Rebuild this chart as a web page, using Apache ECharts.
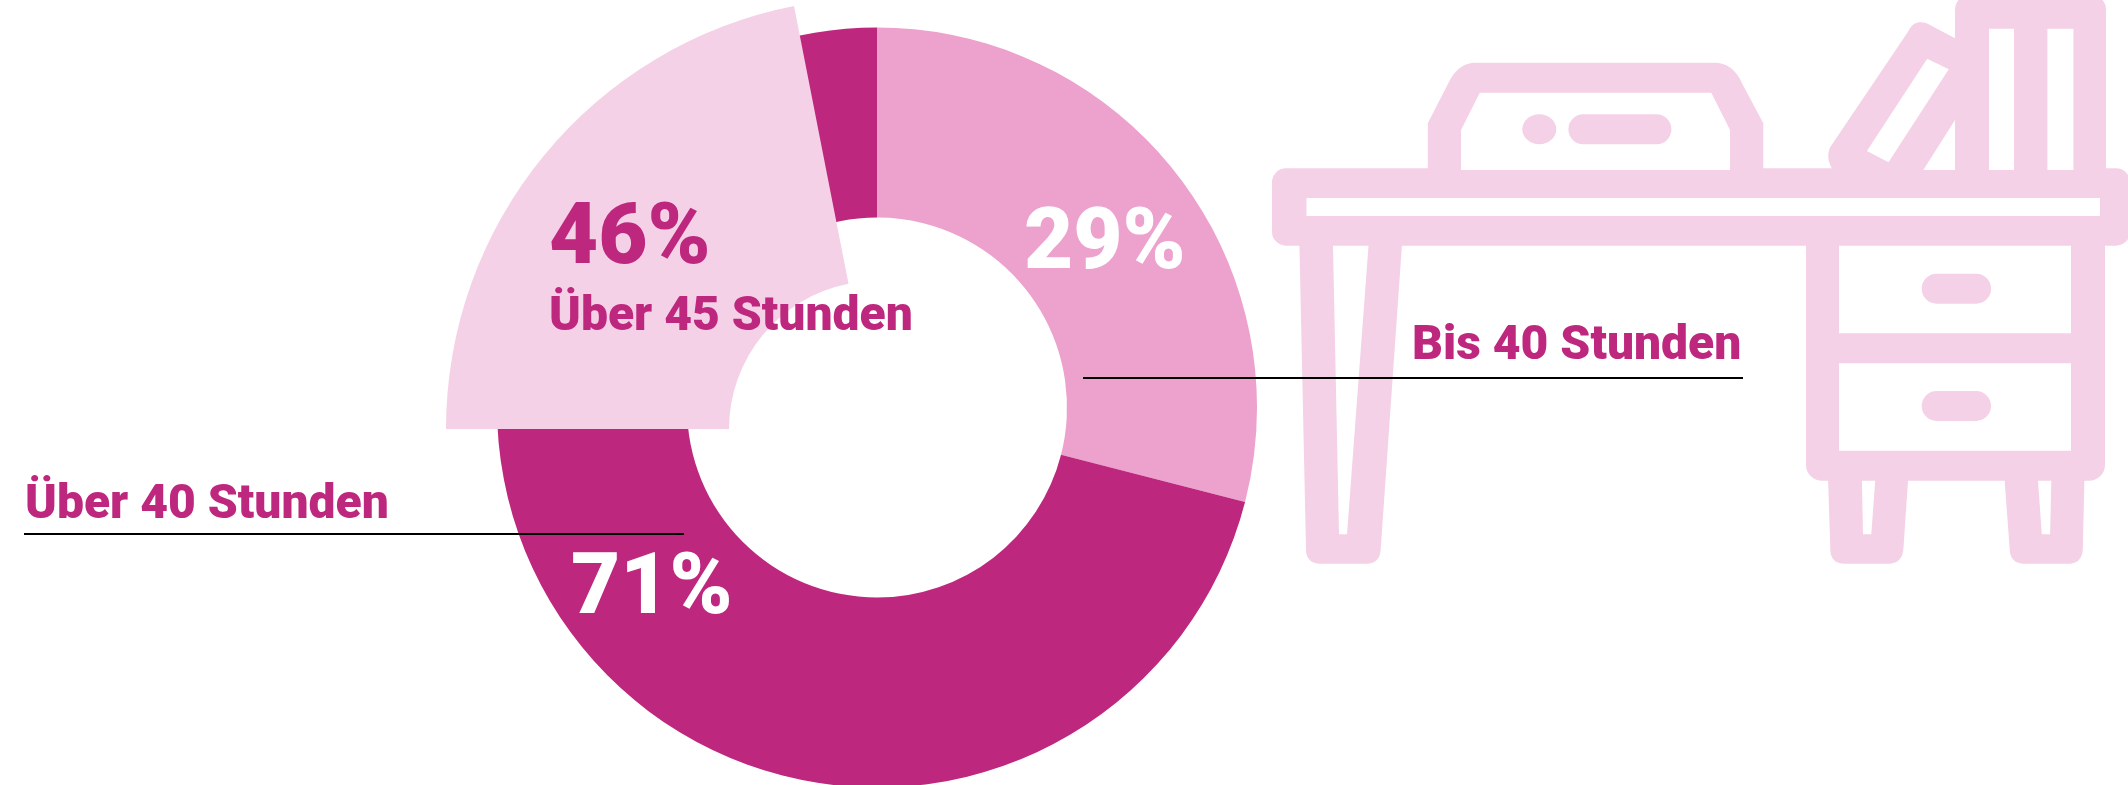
<!DOCTYPE html>
<html><head><meta charset="utf-8">
<style>html,body{margin:0;padding:0;background:#fff}#c{width:2128px;height:785px}</style>
<script src="https://cdn.jsdelivr.net/npm/echarts@6/dist/echarts.min.js"></script>
</head><body><div id="c"></div>
<script>
// ---- data
const ringNames = ['Bis 40 Stunden', 'Über 40 Stunden'];
const ringValues = [29, 71];
const overlayName = 'Über 45 Stunden';
const overlayShare = 46;
// the raised wedge covers this many degrees of the circle in the picture
const overlaySweepDeg = [78.9, 281.1];
const DARK = '#BE277E', MID = '#ECA2CD', LIGHT = '#F4D1E6';

const chart = echarts.init(document.getElementById('c'), null, {renderer:'canvas', width:2128, height:785});

const ICON = LIGHT;
function rr(x1,y1,x2,y2,r){ return {type:'rect',z:1,shape:{x:x1,y:y1,width:x2-x1,height:y2-y1,r:r},style:{fill:ICON}}; }
function hole(x1,y1,x2,y2){ return {type:'rect',z:2,shape:{x:x1,y:y1,width:x2-x1,height:y2-y1},style:{fill:'#fff'}}; }
function poly(pts,z,fill){ return {type:'polygon',z:z,shape:{points:pts},style:{fill:fill}}; }
// outline helper: M/L/Q path text turned into polygon points
function path(d,z,fill){
  const t = d.match(/[MLQZ]|-?[\d.]+/g); const pts=[]; let i=0, cur=null;
  const num=()=>parseFloat(t[i++]);
  while(i<t.length){ const c=t[i++];
    if(c==='M'||c==='L'){ cur=[num(),num()]; pts.push(cur); }
    else if(c==='Q'){ const a=[num(),num()], b=[num(),num()];
      for(let k=1;k<=16;k++){ const u=k/16, v=1-u; pts.push([v*v*cur[0]+2*v*u*a[0]+u*u*b[0], v*v*cur[1]+2*v*u*a[1]+u*u*b[1]]); }
      cur=b; }
  }
  return poly(pts,z,fill);
}
function txt(s,x,base,size,color,weight){ return {type:'text',z:20,x:x,y:base-0.252*size,style:{text:s,fill:color,font:(weight||'900')+' '+size+'px Roboto',verticalAlign:'middle',align:'left'}}; }
function ln(x1,x2,y){ return {type:'line',z:15,shape:{x1:x1,y1:y,x2:x2,y2:y},style:{stroke:'#000',lineWidth:2}}; }

const icon = [
  // books
  {type:'rect',z:1,shape:{x:1955,y:-6,width:151,height:180,r:[16,16,0,0]},style:{fill:ICON}},
  hole(1989,28.7,2014,170), hole(2047.4,28.7,2073.4,170),
  // leaning book
  path('M1955,38.3 L1930,25 Q1915,17 1908,31.7 L1830.5,146.7 Q1825,158 1833,170 L1955,170 Z',1,ICON),
  poly([[1927.2,58.7],[1948.8,69.3],[1888.5,162.3],[1866.9,151]],2,'#fff'),
  poly([[1955,120],[1955,170],[1923.3,170]],2,'#fff'),
  // box
  path('M1427.8,170 L1427.8,123.3 L1448.3,83.3 Q1458,62.7 1476,62.7 L1714,62.7 Q1733,62.7 1742,83.3 L1763.3,123.3 L1763.3,170 Z',1,ICON),
  poly([[1461,170],[1461,130],[1479.8,92.7],[1711.3,92.7],[1730,130],[1730,170]],2,'#fff'),
  {type:'ellipse',z:3,shape:{cx:1539.3,cy:129.3,rx:17,ry:15},style:{fill:ICON}},
  {type:'rect',z:3,shape:{x:1568.4,y:114.3,width:103,height:30,r:15},style:{fill:ICON}},
  // top
  rr(1272,168.3,2130,245.7,14),
  hole(1306.5,198,2100,216),
  // left leg
  path('M1299.3,240 L1402.3,240 L1380.7,549 Q1380,563.7 1366,563.7 L1321,563.7 Q1306,563.7 1306,549 Z',1,ICON),
  poly([[1333,245.7],[1368.5,245.7],[1347,534.3],[1339,534.3]],2,'#fff'),
  // cabinet
  {type:'rect',z:1,shape:{x:1806,y:240,width:299,height:240.7,r:[0,0,16,16]},style:{fill:ICON}},
  hole(1839,245.7,2071,333.3), hole(1839,363.3,2071,450.7),
  {type:'rect',z:3,shape:{x:1921.7,y:273.7,width:69.3,height:30,r:15},style:{fill:ICON}},
  {type:'rect',z:3,shape:{x:1921.7,y:391,width:69.3,height:30,r:15},style:{fill:ICON}},
  // feet
  path('M1828,475 L1908.4,475 L1903.4,549 Q1902,563.7 1888,563.7 L1845,563.7 Q1830.3,563.7 1830.3,549 Z',1,ICON),
  poly([[1861.9,480.7],[1875.2,480.7],[1871.3,534.3],[1863,534.3]],2,'#fff'),
  path('M2004.2,475 L2084.5,475 L2082.8,549 Q2082,563.7 2068,563.7 L2025,563.7 Q2010,563.7 2009.7,549 Z',1,ICON),
  poly([[2038,480.7],[2051.3,480.7],[2050.1,534.3],[2041.8,534.3]],2,'#fff')
];

const labels = [
  txt(ringValues[0]+'%',1024,268,85,'#fff'),
  txt(ringValues[1]+'%',571,613,85,'#fff'),
  txt(overlayShare+'%',549,263,85,DARK),
  txt(overlayName,549,330,48,DARK),
  txt(ringNames[0],1412,359,48,DARK),
  txt(ringNames[1],25,518,48,DARK),
  ln(1083,1743,378),
  ln(24,684,534)
];

chart.setOption({
  animation:false,
  backgroundColor:'#fff',
  series:[
    {type:'pie',z:4,silent:true,center:[877,407.5],radius:[190,380],startAngle:90,
     label:{show:false},labelLine:{show:false},
     data:ringNames.map((n,i)=>({name:n,value:ringValues[i],itemStyle:{color:i===0?MID:DARK}}))},
    {type:'pie',z:5,silent:true,center:[877,429],radius:[148,431],startAngle:180,
     label:{show:false},labelLine:{show:false},
     data:[{name:overlayName,value:overlaySweepDeg[0],itemStyle:{color:LIGHT}},
           {name:'',value:overlaySweepDeg[1],itemStyle:{color:'rgba(0,0,0,0)'}}]}
  ],
  graphic:{elements:icon.concat(labels)}
});
</script></body></html>
